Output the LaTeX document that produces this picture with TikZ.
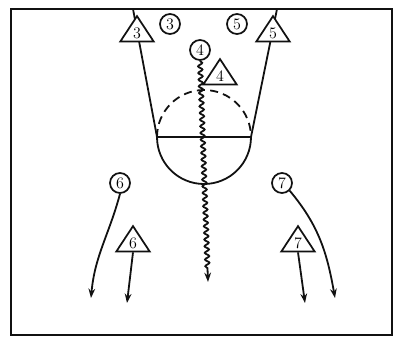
\documentclass[tikz,border=0pt]{standalone}
\usepackage{xcolor}
\usepackage{tikz}
\usetikzlibrary{positioning, arrows.meta}
\usetikzlibrary{shapes.geometric,decorations.pathmorphing}
\definecolor{cInk}{HTML}{111111}
\begin{document}
\begin{tikzpicture}[x=0.75pt, y=-0.75pt, >=Stealth,
        court/.style={line width=1.35pt, cInk},
        offp/.style={circle, draw=cInk, line width=1.3pt, fill=white, minimum size=15pt,
          inner sep=0pt, font=\large},
        defp/.style={isosceles triangle, shape border rotate=90, isosceles triangle stretches,
          draw=cInk, line width=1.3pt, fill=white, minimum width=25pt, minimum height=19pt,
          inner sep=0pt, font=\large},
        run/.style={->, line width=1.35pt, cInk, >={Stealth[length=7pt, width=5pt]}},
        dribble/.style={run, decorate, decoration={snake, amplitude=1.6pt, segment length=5pt,
          post length=9pt}}]
      \useasboundingbox (0,0) rectangle (395,337);
      % court
      \draw[line width=2pt, cInk] (11,9) rectangle (392,335);
      \coordinate (laneL) at (133,9);
      \coordinate (laneR) at (277,9);
      \coordinate (ftL) at (157,137);
      \coordinate (ftR) at (251,137);
      \draw[court] (laneL) -- (ftL) -- (ftR) -- (laneR);
      \draw[court] (ftL) arc[start angle=180, end angle=0, radius=47];
      \draw[court, dashed, dash pattern=on 6pt off 4pt] (ftL) arc[start angle=180, end angle=360, radius=47];
      % players
      \node[defp] (d3) at (137,33) {3};
      \node[defp] (d5) at (273,33) {5};
      \node[defp] (d4) at (220,76) {4};
      \node[defp] (d6) at (133,243) {6};
      \node[defp] (d7) at (298,243) {7};
      \node[offp] (o3) at (170,24) {3};
      \node[offp] (o5) at (237,24) {5};
      \node[offp] (o4) at (200,50) {4};
      \node[offp] (o6) at (120,183) {6};
      \node[offp] (o7) at (282,183) {7};
      % moves
      \coordinate (e4) at (208,282);
      \coordinate (e6) at (91,298);
      \coordinate (f6) at (127,303);
      \coordinate (f7) at (305,303);
      \coordinate (e7) at (335,298);
      \draw[dribble] (o4.south) -- (e4);
      \draw[run] (o6.south) to[out=-105, in=85] (e6);
      \draw[run] (d6.south) -- (f6);
      \draw[run] (d7.south) -- (f7);
      \draw[run] (o7.south east) to[out=-50, in=100] (e7);
    \end{tikzpicture}
\end{document}
